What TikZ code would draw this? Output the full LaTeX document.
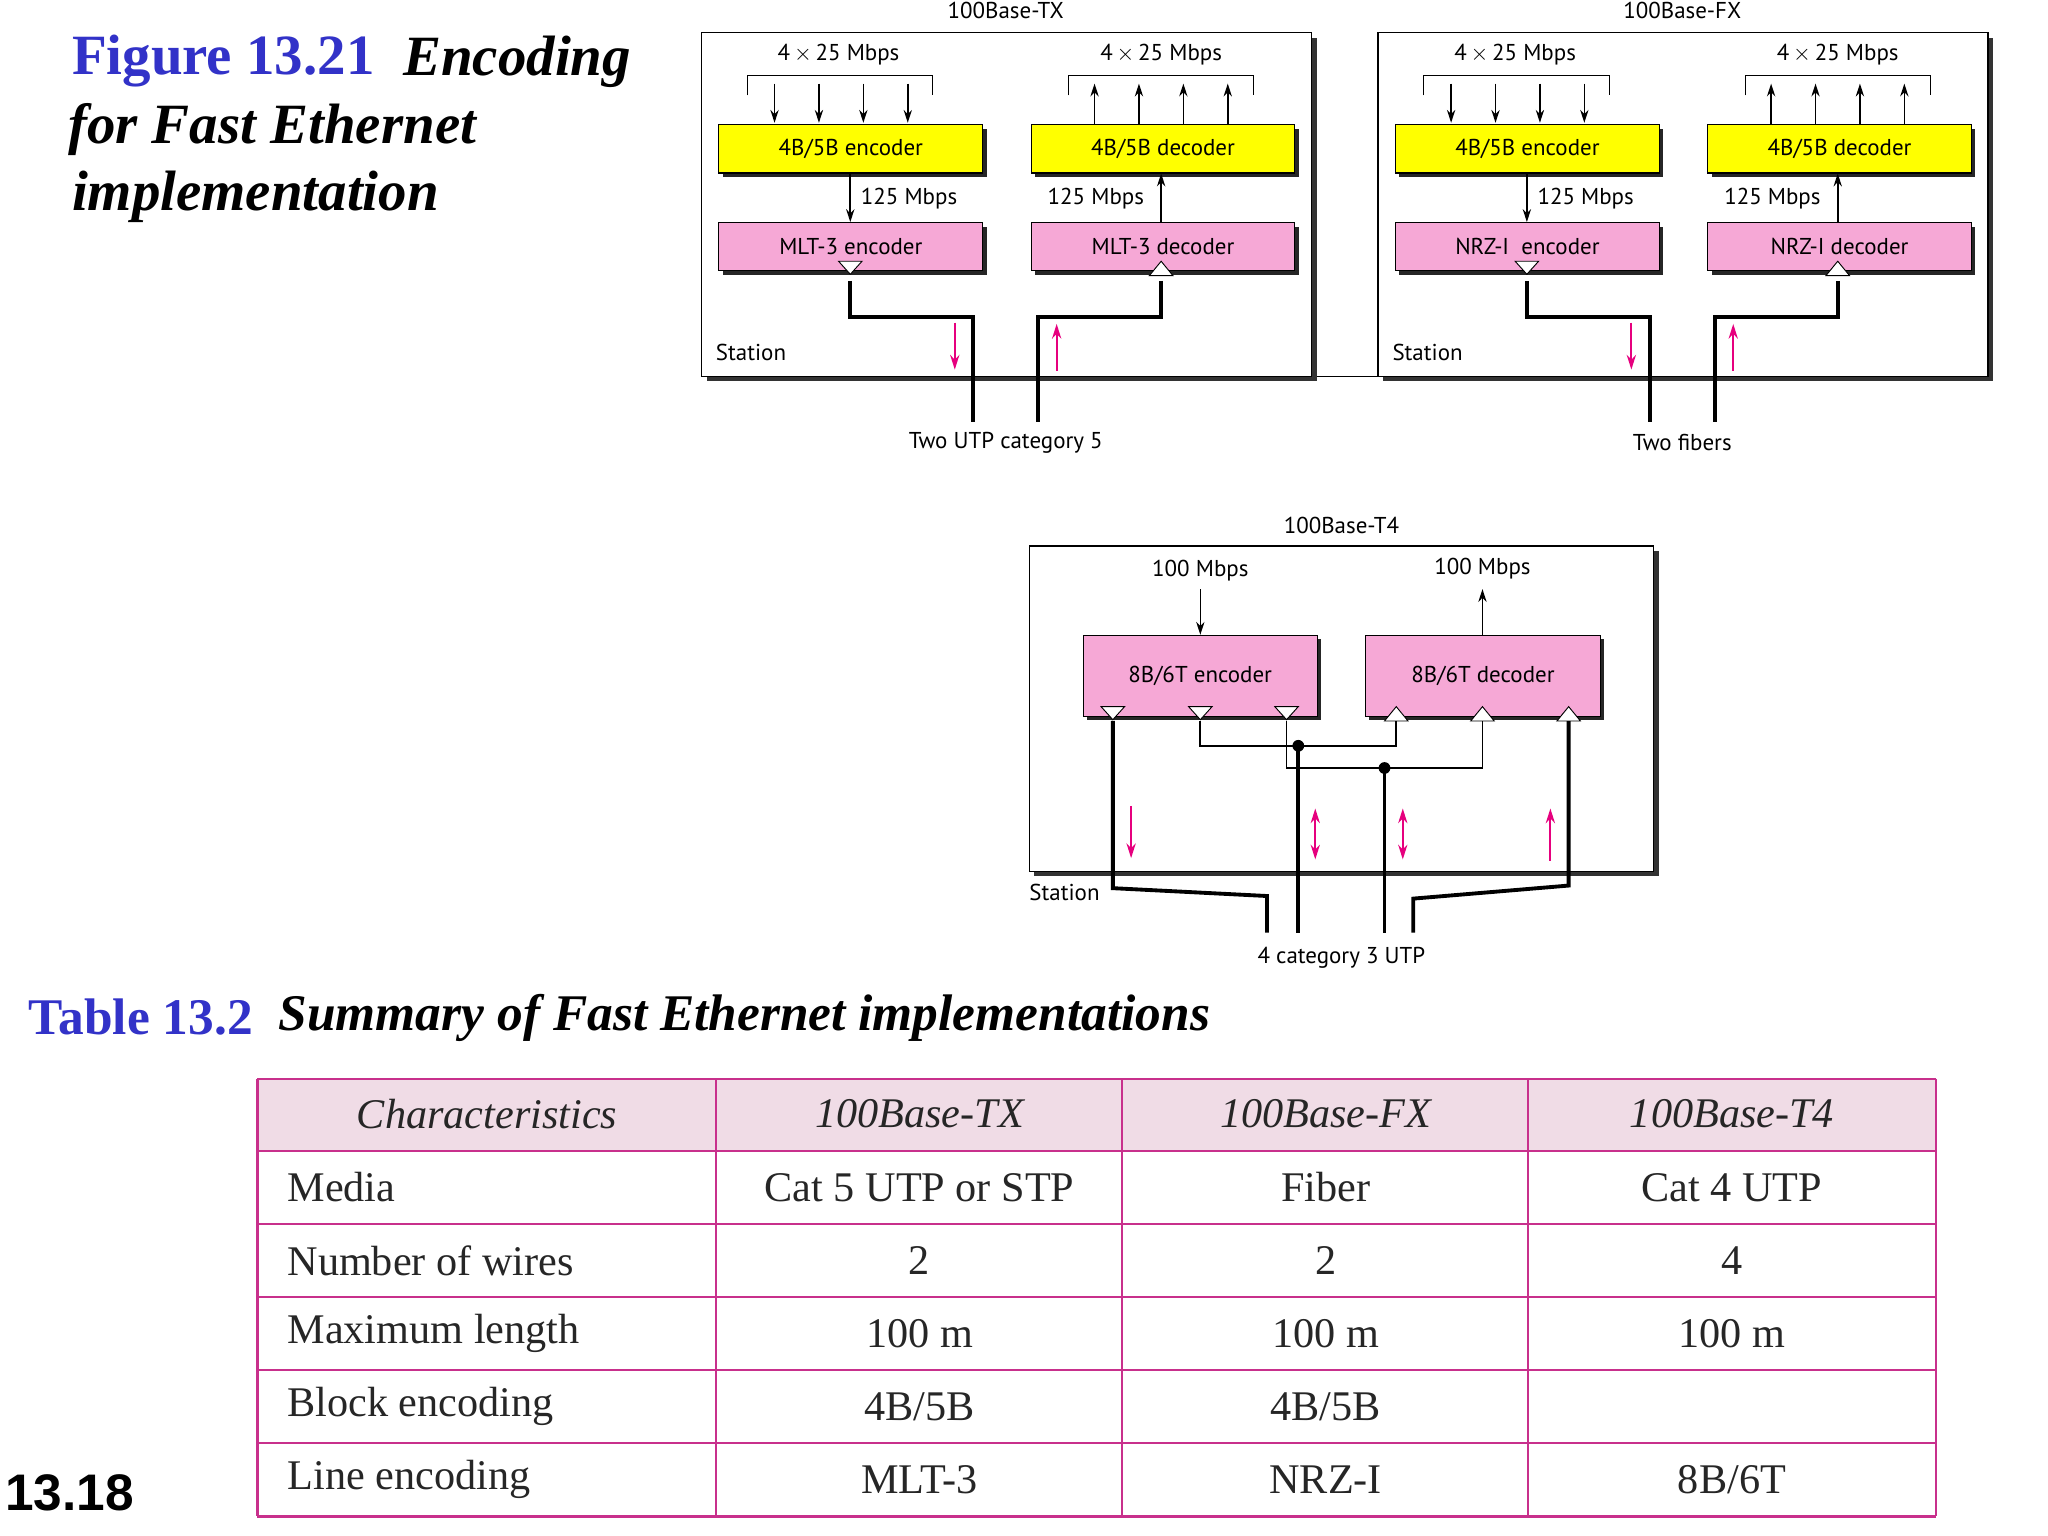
\documentclass[tikz,border=0pt]{standalone}
\usepackage{fontspec}
\setmainfont{Liberation Serif}
\newfontfamily\dsans{PT Sans}
\newfontfamily\hsans{Liberation Sans}
\usetikzlibrary{shadows,arrows.meta}
\definecolor{ybox}{HTML}{FFFF00}
\definecolor{pbox}{HTML}{F6A8D6}
\definecolor{parr}{HTML}{E6007E}
\definecolor{tblue}{HTML}{3232C8}
\definecolor{tline}{HTML}{C8308C}
\definecolor{thead}{HTML}{F0DCE6}
\def\u{0.05cm}
\tikzset{
 lbl/.style={font=\dsans\fontsize{25}{28}\selectfont, inner sep=0pt},
 blk/.style={draw=black, line width=1.2pt, anchor=north west, inner sep=0pt,
   minimum width=202*\u, minimum height=37*\u, lbl,
   drop shadow={shadow xshift=3*\u, shadow yshift=-3*\u, fill=black!85, opacity=1}},
 station/.style={draw=black, line width=1.4pt, fill=white,
   drop shadow={shadow xshift=4*\u, shadow yshift=-4*\u, fill=black!80, opacity=1}},
 wire/.style={line width=4.2pt},
 thin/.style={line width=2pt},
 arr/.style={line width=1.8pt, -{Stealth[length=14pt,width=9pt]}},
 parrow/.style={parr, line width=2.4pt, -{Stealth[length=16pt,width=10pt]}},
 pdarrow/.style={parr, line width=2.4pt, {Stealth[length=16pt,width=10pt]}-{Stealth[length=16pt,width=10pt]}},
 tri/.style={fill=white, draw=black, line width=1pt},
 tt/.style={inner sep=0pt, font=\fontsize{46}{50}\selectfont, text=black!85},
 ttl/.style={inner sep=0pt, anchor=west, font=\fontsize{62}{70}\selectfont\bfseries},
}
\newcommand\ethblock[6]{% prefix, xshift, title, encoder, decoder, cable label
\begin{scope}[xshift=#2*\u]
 \path[station] (537,25) rectangle (1004,288);
 \node[lbl] (#1title) at (770,8) {#3};
 \node[lbl,anchor=west] (#1st) at (548,270) {Station};
 \node[blk, fill=ybox] (#1enc) at (550,95) {4B/5B encoder};
 \node[blk, fill=ybox] (#1dec) at (789,95) {4B/5B decoder};
 \node[blk, fill=pbox] (#1lenc) at (550,170) {#4};
 \node[blk, fill=pbox] (#1ldec) at (789,170) {#5};
 \node[lbl] (#1ra) at (642,42) {4\,$\times$\,25 Mbps};
 \node[lbl] (#1rb) at (889,42) {4\,$\times$\,25 Mbps};
 \draw[line width=1pt] (572,73)--(572,58)--(714,58)--(714,73);
 \draw[line width=1pt] (818,73)--(818,58)--(960,58)--(960,73);
 \foreach \x in {593,627,661,695}{\coordinate (#1ia\x) at (\x,64); \draw[arr] (#1ia\x) -- (\x,94);}
 \foreach \x in {838,872,906,940}{\coordinate (#1ib\x) at (\x,64); \draw[arr] (\x,95) -- (#1ib\x);}
 \draw[arr] (#1enc.south -| 651,0) -- (#1lenc.north -| 651,0);
 \draw[arr] (#1ldec.north -| 889,0) -- (#1dec.south -| 889,0);
 \node[lbl,anchor=west] (#1ma) at (659,152) {125 Mbps};
 \node[lbl,anchor=east] (#1mb) at (876,152) {125 Mbps};
 \coordinate (#1to) at (651,215);
 \coordinate (#1ti) at (889,215);
 \coordinate (#1ca) at (745,323);
 \coordinate (#1cb) at (795,323);
 \draw[wire] (#1to) |- (745,243) -- (#1ca);
 \draw[wire] (#1ti) |- (795,243) -- (#1cb);
 \draw[tri] (642,200)--(660,200)--(651,210)--cycle;
 \draw[tri] (880,211)--(898,211)--(889,200)--cycle;
 \draw[parrow] (731,247)--(731,283);
 \draw[parrow] (809,284)--(809,248);
 \node[lbl] (#1cab) at (770,339) {#6};
\end{scope}}
\begin{document}
\begin{tikzpicture}[x=\u,y=-\u]
\useasboundingbox (0,0) rectangle (1568,1176);
\fill[white] (0,0) rectangle (1568,1176);
% title
\node[ttl, text=tblue] (ft) at (55,47) {Figure 13.21};
\node[ttl, anchor=west, font=\fontsize{62}{70}\selectfont\bfseries\itshape] (fe) at (ft.east) {\ \ Encoding};
\node[ttl, font=\fontsize{62}{70}\selectfont\bfseries\itshape] (f2) at (52,99) {for Fast Ethernet};
\node[ttl, font=\fontsize{62}{70}\selectfont\bfseries\itshape] (f3) at (55,151) {implementation};
% blocks
\ethblock{tx}{0}{100Base-TX}{MLT-3 encoder}{MLT-3 decoder}{Two UTP category 5}
\ethblock{fx}{518}{100Base-FX}{NRZ-I\ \ encoder}{NRZ-I decoder}{Two fibers}
\draw[line width=1.4pt] (1008,288)--(1054,288);
% T4
\path[station] (788,418) rectangle (1266,667);
\node[lbl] (t4t) at (1027,402) {100Base-T4};
\node[blk, fill=pbox, minimum width=179*\u, minimum height=62*\u] (t4e) at (829,486) {8B/6T encoder};
\node[blk, fill=pbox, minimum width=180*\u, minimum height=62*\u] (t4d) at (1045,486) {8B/6T decoder};
\node[lbl] (t4a) at (919,437) {100 Mbps};
\node[lbl] (t4b) at (1135,435) {100 Mbps};
\draw[arr] (919,451) -- (t4e.north -| 919,0);
\draw[arr] (t4d.north -| 1135,0) -- (1135,451);
\coordinate (w1) at (970,714); \coordinate (w2) at (994,714);
\coordinate (w3) at (1060,714); \coordinate (w4) at (1082,714);
\draw[thin] (919,552) |- (1069,571) -- (1069,552);
\draw[thin] (985,552) |- (1135,588) -- (1135,552);
\draw[wire] (852,552) -- (852,680) -- (970,686) -- (w1);
\draw[wire] (1201,552) -- (1201,678) -- (1082,688) -- (w4);
\draw[wire] (994,571) -- (w2);
\draw[wire] (1060,588) -- (w3);
\fill (994,571) circle (4.5); \fill (1060,588) circle (4.5);
\foreach \x in {852,919,985}{\draw[tri] (\x-9,541)--(\x+9,541)--(\x,551)--cycle;}
\foreach \x in {1069,1135,1201}{\draw[tri] (\x-9,552)--(\x+9,552)--(\x,541)--cycle;}
\draw[parrow] (866,617)--(866,657);
\draw[pdarrow] (1007,619)--(1007,658);
\draw[pdarrow] (1074,619)--(1074,658);
\draw[parrow] (1187,659)--(1187,619);
\node[lbl,anchor=west] (t4s) at (788,683) {Station};
\node[lbl] (t4c) at (1027,733) {4 category 3 UTP};
% table title
\node[ttl, text=tblue, font=\fontsize{56}{64}\selectfont\bfseries] (tt1) at (22,779) {Table 13.2};
\node[ttl, anchor=west, font=\fontsize{56}{64}\selectfont\bfseries\itshape] (tt2) at (tt1.east) {\ \ Summary of Fast Ethernet implementations};
% table
\fill[thead] (197,826) rectangle (1482,881);
\foreach \y in {826,881,937,993,1049,1105,1161}{\draw[tline,line width=2.6pt] (197,\y)--(1482,\y);}
\foreach \x in {197,548,859,1170,1482}{\draw[tline,line width=2.6pt] (\x,826)--(\x,1161);}
\node[tt,font=\fontsize{46}{50}\selectfont\itshape] (h0) at (373,853) {Characteristics};
\node[tt,font=\fontsize{46}{50}\selectfont\itshape] (h1) at (704,853) {100Base-TX};
\node[tt,font=\fontsize{46}{50}\selectfont\itshape] (h2) at (1015,853) {100Base-FX};
\node[tt,font=\fontsize{46}{50}\selectfont\itshape] (h3) at (1326,853) {100Base-T4};
\node[tt,anchor=west] (r1) at (220,909) {Media};
\node[tt] (r1a) at (704,909) {Cat 5 UTP or STP};
\node[tt] (r1b) at (1015,909) {Fiber};
\node[tt] (r1c) at (1326,909) {Cat 4 UTP};
\node[tt,anchor=west] (r2) at (220,965) {Number of wires};
\node[tt] (r2a) at (704,965) {2};
\node[tt] (r2b) at (1015,965) {2};
\node[tt] (r2c) at (1326,965) {4};
\node[tt,anchor=west] (r3) at (220,1021) {Maximum length};
\node[tt] (r3a) at (704,1021) {100 m};
\node[tt] (r3b) at (1015,1021) {100 m};
\node[tt] (r3c) at (1326,1021) {100 m};
\node[tt,anchor=west] (r4) at (220,1077) {Block encoding};
\node[tt] (r4a) at (704,1077) {4B/5B};
\node[tt] (r4b) at (1015,1077) {4B/5B};
\node[tt,anchor=west] (r5) at (220,1133) {Line encoding};
\node[tt] (r5a) at (704,1133) {MLT-3};
\node[tt] (r5b) at (1015,1133) {NRZ-I};
\node[tt] (r5c) at (1326,1133) {8B/6T};
\node[inner sep=0pt, anchor=west, font=\hsans\bfseries\fontsize{56}{60}\selectfont] (pg) at (4,1143) {13.18};
\end{tikzpicture}
\end{document}
